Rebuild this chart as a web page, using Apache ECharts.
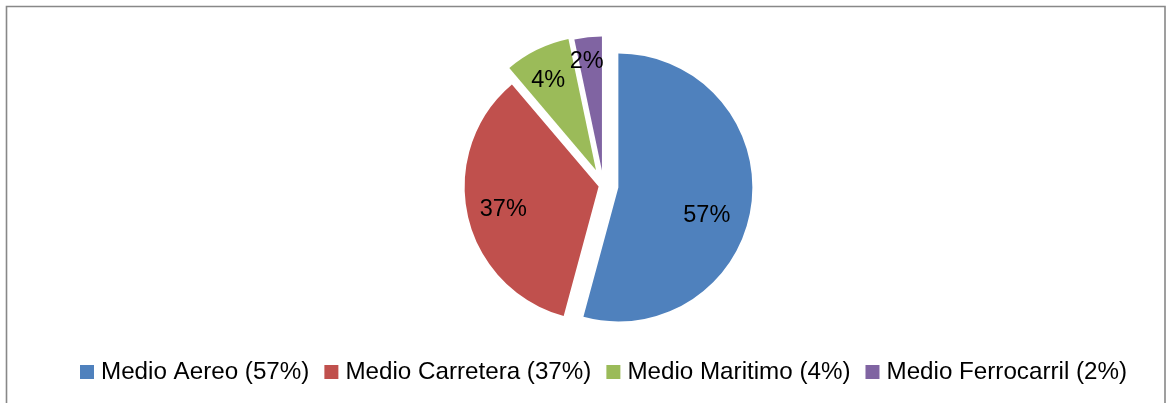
<!DOCTYPE html>
<html>
<head>
<meta charset="utf-8">
<script src="https://cdn.jsdelivr.net/npm/echarts@6/dist/echarts.min.js"></script>
<style>
html,body{margin:0;padding:0;background:#fff;}
#chart{width:1167px;height:403px;}
</style>
</head>
<body>
<div id="chart"></div>
<script>
// ---- data ----
var categories = ['Medio Aereo', 'Medio Carretera', 'Medio Maritimo', 'Medio Ferrocarril'];
var sliceValues = [54.2, 34.6, 7.9, 3.3];          // slice sizes as drawn
var labelPercents = [57, 37, 4, 2];                // percentages printed on the chart
// ---- styles ----
var colors = ['#4F81BD', '#C0504D', '#9BBB59', '#8064A2'];
var explodeOffsets = [15, 5, 17, 15];
var labelNudge = [[19, 19], [-27, 8], [-17, -27], [-8, -39]];

var chart = echarts.init(document.getElementById('chart'));

var legendNames = categories.map(function (c, i) { return c + ' (' + labelPercents[i] + '%)'; });

var series = categories.map(function (cat, s) {
  return {
    type: 'pie',
    center: [603.5, 185.5],
    radius: 134,
    startAngle: 90,
    clockwise: true,
    silent: true,
    animation: false,
    avoidLabelOverlap: false,
    selectedMode: 'multiple',
    selectedOffset: explodeOffsets[s],
    labelLine: { show: false },
    labelLayout: function (p) {
      return { dx: labelNudge[p.dataIndex][0], dy: labelNudge[p.dataIndex][1] };
    },
    data: sliceValues.map(function (v, i) {
      var mine = i === s;
      return {
        name: legendNames[i],
        value: v,
        selected: mine,
        itemStyle: { color: colors[i], opacity: mine ? 1 : 0 },
        label: {
          show: mine,
          position: 'inside',
          formatter: labelPercents[i] + '%',
          color: '#000',
          fontFamily: 'Liberation Sans, Arial, sans-serif',
          fontSize: 23.5
        }
      };
    })
  };
});

chart.setOption({
  animation: false,
  legend: {
    left: 75,
    top: 355,
    itemWidth: 14,
    itemHeight: 14,
    itemGap: 15,
    selectedMode: false,
    icon: 'rect',
    textStyle: { fontFamily: 'Liberation Sans, Arial, sans-serif', fontSize: 24.2, color: '#000', padding: [0, 0, 0, 2] },
    data: legendNames.map(function (n, i) {
      return { name: n, itemStyle: { color: colors[i], opacity: 1 } };
    })
  },
  graphic: [{
    type: 'rect',
    silent: true,
    shape: { x: 6.5, y: 6.5, width: 1158.5, height: 430 },
    style: { fill: 'none', stroke: '#888888', lineWidth: 1.6 }
  }],
  series: series
});
</script>
</body>
</html>
